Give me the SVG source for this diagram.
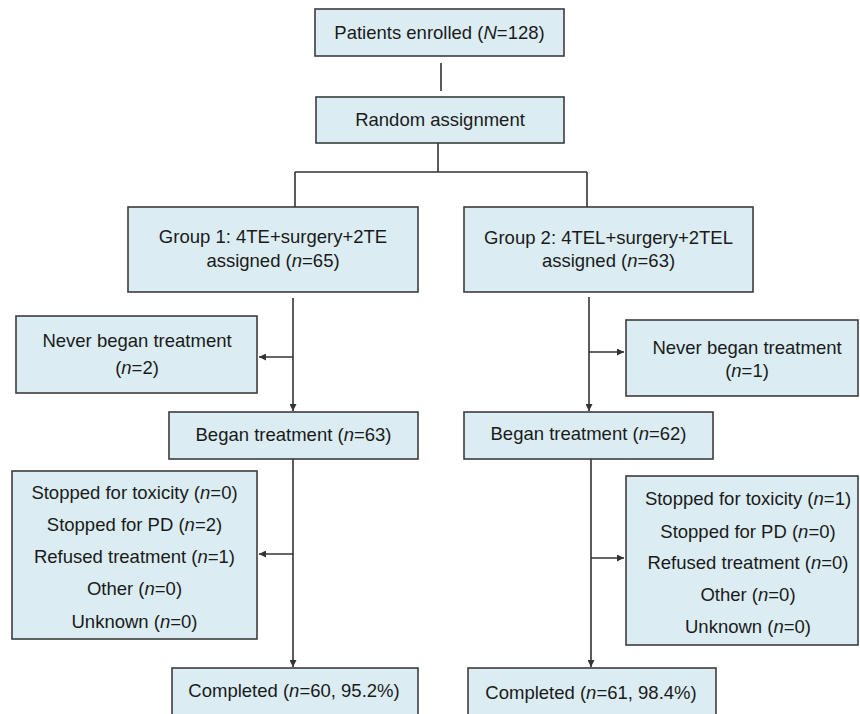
<svg xmlns="http://www.w3.org/2000/svg" width="860" height="714" viewBox="0 0 860 714">
<style>
.box{fill:#dbedf3;stroke:#3c3c3c;stroke-width:1.6}
.t{font-family:"Liberation Sans",Arial,sans-serif;font-size:18.5px;fill:#1a1a1a;text-anchor:middle}
.i{font-style:italic}
.c{stroke:#333;stroke-width:1.6;fill:none}
</style>
<defs>
<marker id="ah" viewBox="0 0 10 10" refX="10" refY="5" markerWidth="7" markerHeight="7" markerUnits="userSpaceOnUse" orient="auto">
<path d="M0,0 L10,5 L0,10 z" fill="#333"/>
</marker>
</defs>
<rect width="860" height="714" fill="#fff"/>
<g id="connectors">
<line class="c" x1="441" y1="63" x2="441" y2="91"/>
<line class="c" x1="438" y1="143" x2="438" y2="172"/>
<line class="c" x1="295" y1="172" x2="587" y2="172"/>
<line class="c" x1="295" y1="172" x2="295" y2="207"/>
<line class="c" x1="587" y1="172" x2="587" y2="207"/>
<line class="c" x1="293" y1="298" x2="293" y2="411" marker-end="url(#ah)"/>
<line class="c" x1="293" y1="357" x2="259" y2="357" marker-end="url(#ah)"/>
<line class="c" x1="589" y1="297" x2="589" y2="411" marker-end="url(#ah)"/>
<line class="c" x1="589" y1="352" x2="624" y2="352" marker-end="url(#ah)"/>
<line class="c" x1="293" y1="459" x2="293" y2="667" marker-end="url(#ah)"/>
<line class="c" x1="293" y1="554" x2="259" y2="554" marker-end="url(#ah)"/>
<line class="c" x1="591" y1="459" x2="591" y2="667" marker-end="url(#ah)"/>
<line class="c" x1="591" y1="558" x2="624" y2="558" marker-end="url(#ah)"/>
</g>
<g id="enrolled">
<rect class="box" x="315" y="9" width="249" height="47"/>
<text class="t" x="439.5" y="39">Patients enrolled (<tspan class="i">N</tspan>=128)</text>
</g>
<g id="random">
<rect class="box" x="316" y="97" width="248" height="46"/>
<text class="t" x="440" y="126">Random assignment</text>
</g>
<g id="group1">
<rect class="box" x="128" y="207" width="290" height="85"/>
<text class="t" x="273" y="243">Group 1: 4TE+surgery+2TE</text>
<text class="t" x="273" y="267">assigned (<tspan class="i">n</tspan>=65)</text>
</g>
<g id="group2">
<rect class="box" x="464" y="207" width="289" height="85"/>
<text class="t" x="608.5" y="244">Group 2: 4TEL+surgery+2TEL</text>
<text class="t" x="608.5" y="267">assigned (<tspan class="i">n</tspan>=63)</text>
</g>
<g id="never1">
<rect class="box" x="16" y="316" width="241" height="77"/>
<text class="t" x="137" y="347">Never began treatment</text>
<text class="t" x="137" y="374">(<tspan class="i">n</tspan>=2)</text>
</g>
<g id="never2">
<rect class="box" x="626" y="320" width="232" height="76"/>
<text class="t" x="747" y="354">Never began treatment</text>
<text class="t" x="747" y="377">(<tspan class="i">n</tspan>=1)</text>
</g>
<g id="began1">
<rect class="box" x="169" y="412" width="249" height="47"/>
<text class="t" x="293.5" y="441">Began treatment (<tspan class="i">n</tspan>=63)</text>
</g>
<g id="began2">
<rect class="box" x="464" y="412" width="249" height="47"/>
<text class="t" x="588.5" y="440">Began treatment (<tspan class="i">n</tspan>=62)</text>
</g>
<g id="stopped1">
<rect class="box" x="12" y="471" width="245" height="168"/>
<text class="t" x="134.5" y="499">Stopped for toxicity (<tspan class="i">n</tspan>=0)</text>
<text class="t" x="134.5" y="531">Stopped for PD (<tspan class="i">n</tspan>=2)</text>
<text class="t" x="134.5" y="563">Refused treatment (<tspan class="i">n</tspan>=1)</text>
<text class="t" x="134.5" y="595">Other (<tspan class="i">n</tspan>=0)</text>
<text class="t" x="134.5" y="628">Unknown (<tspan class="i">n</tspan>=0)</text>
</g>
<g id="stopped2">
<rect class="box" x="626" y="476" width="232" height="169"/>
<text class="t" x="748" y="505">Stopped for toxicity (<tspan class="i">n</tspan>=1)</text>
<text class="t" x="748" y="538">Stopped for PD (<tspan class="i">n</tspan>=0)</text>
<text class="t" x="748" y="569">Refused treatment (<tspan class="i">n</tspan>=0)</text>
<text class="t" x="748" y="601">Other (<tspan class="i">n</tspan>=0)</text>
<text class="t" x="748" y="633">Unknown (<tspan class="i">n</tspan>=0)</text>
</g>
<g id="completed1">
<rect class="box" x="172" y="668" width="246" height="60"/>
<text class="t" x="294" y="697">Completed (<tspan class="i">n</tspan>=60, 95.2%)</text>
</g>
<g id="completed2">
<rect class="box" x="468" y="668" width="248" height="60"/>
<text class="t" x="591" y="699">Completed (<tspan class="i">n</tspan>=61, 98.4%)</text>
</g>
</svg>
